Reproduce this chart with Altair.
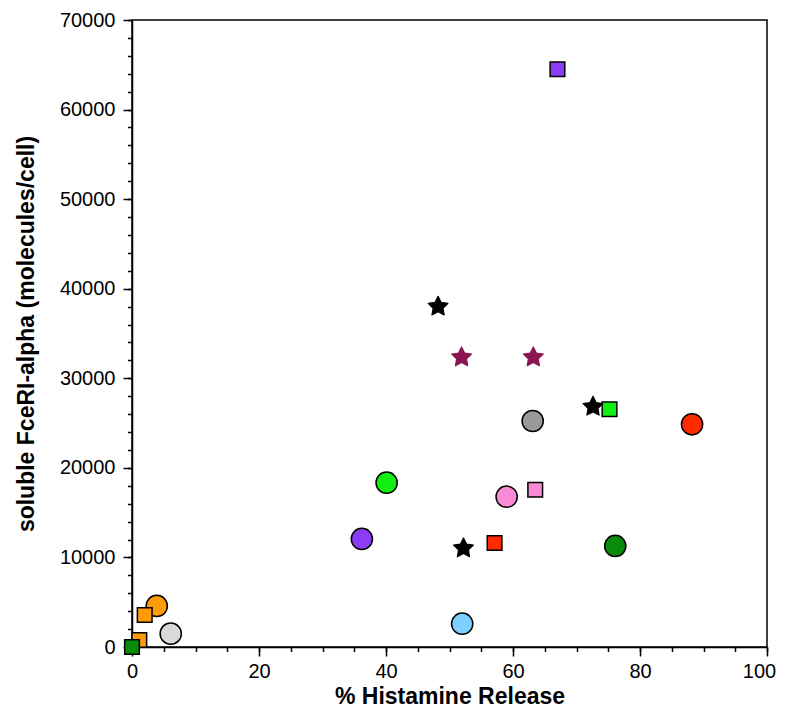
import altair as alt
import pandas as pd

# ---- data ----
x_vals = [36.2, 40.1, 59.0, 63.1, 88.2, 76.1, 52.0, 3.9, 6.1,
          48.2, 51.9, 63.2, 72.6, 52.2,
          67.0, 75.2, 63.5, 57.1, 2.0, 1.15, 0.0]
y_vals = [12060, 18340, 16780, 25230, 24860, 11280, 2600, 4580, 1490,
          38000, 32340, 32340, 26830, 11020,
          64500, 26540, 17560, 11610, 3570, 780, 0]
markers = ["circle"] * 9 + ["star"] * 5 + ["square"] * 7
series = ["purple", "lime", "pink", "gray", "red", "darkgreen", "lightblue", "orange", "lightgray",
          "black", "maroon", "maroon", "black", "black",
          "purple", "lime", "pink", "red", "orange", "orange", "darkgreen"]

x_ticks = [0, 20, 40, 60, 80, 100]
y_ticks = [0, 10000, 20000, 30000, 40000, 50000, 60000, 70000]
x_minor = list(range(0, 101, 5))
y_minor = list(range(0, 70001, 2000))

palette = {
    "purple": "#8B3CF6", "lime": "#11EE11", "pink": "#FA8AD6", "gray": "#999999",
    "red": "#FF2A00", "darkgreen": "#0A8A0A", "lightblue": "#7DCFFF",
    "orange": "#FF9A0A", "lightgray": "#D9D9D9", "black": "#000000", "maroon": "#8B1553",
}

df = pd.DataFrame({"x": x_vals, "y": y_vals, "marker": markers, "series": series})

STAR = ("M0,-1L0.294,-0.405L0.951,-0.309L0.476,0.155L0.588,0.809L0,0.5"
        "L-0.588,0.809L-0.476,0.155L-0.951,-0.309L-0.294,-0.405Z")

FONT = "Liberation Sans"
xscale = alt.Scale(domain=[0, 100], nice=False, zero=False)
yscale = alt.Scale(domain=[0, 70000], nice=False, zero=False)
fill_scale = alt.Scale(domain=list(palette.keys()), range=list(palette.values()))

main_x_axis = alt.Axis(values=x_ticks, title="% Histamine Release", grid=False,
                       tickSize=9, tickWidth=1.5, tickColor="black",
                       domainColor="black", domainWidth=1.5, labelFlush=False,
                       labelOffset={"condition": {"test": "datum.value == 100", "value": -8},
                                    "value": 0},
                       labelFont=FONT, labelFontSize=20, labelColor="black", labelPadding=5,
                       titleFont=FONT, titleFontSize=23, titleFontWeight="bold",
                       titleColor="black", titlePadding=4, orient="bottom")
main_y_axis = alt.Axis(values=y_ticks, title="soluble FceRI-alpha (molecules/cell)", grid=False,
                       format="d", tickSize=9, tickWidth=1.5, tickColor="black",
                       domainColor="black", domainWidth=1.5, labelFlush=False,
                       labelFont=FONT, labelFontSize=20, labelColor="black", labelPadding=8,
                       titleFont=FONT, titleFontSize=23, titleFontWeight="bold",
                       titleColor="black", titlePadding=21, orient="left")
minor_x_axis = alt.Axis(values=x_minor, labels=False, domain=False, grid=False, title=None,
                        tickSize=4.5, tickWidth=1.5, tickColor="black", orient="bottom")
minor_y_axis = alt.Axis(values=y_minor, labels=False, domain=False, grid=False, title=None,
                        tickSize=4.5, tickWidth=1.5, tickColor="black", orient="left")

base = alt.Chart(df)


def marker_layer(kind, shape, size, stroke_same, xaxis=None, yaxis=None):
    if stroke_same:
        mark = base.mark_point(filled=True, shape=shape, size=size, opacity=1,
                               strokeWidth=1.2, strokeJoin="round")
        enc = dict(stroke=alt.Stroke("series:N", scale=fill_scale, legend=None))
    else:
        mark = base.mark_point(filled=True, shape=shape, size=size, opacity=1,
                               stroke="black", strokeWidth=1.5)
        enc = {}
    return mark.transform_filter(alt.datum.marker == kind).encode(
        x=alt.X("x:Q", scale=xscale, axis=xaxis),
        y=alt.Y("y:Q", scale=yscale, axis=yaxis),
        fill=alt.Fill("series:N", scale=fill_scale, legend=None),
        **enc,
    )


circles = marker_layer("circle", "circle", 450, False, main_x_axis, main_y_axis)
stars = marker_layer("star", STAR, 430, True)
squares = marker_layer("square", "square", 215, False)
minor = base.mark_point(opacity=0).encode(
    x=alt.X("x:Q", scale=xscale, axis=minor_x_axis),
    y=alt.Y("y:Q", scale=yscale, axis=minor_y_axis),
)

chart = (
    alt.layer(minor, circles, stars, squares)
    .resolve_axis(x="independent", y="independent")
    .properties(
        width=635, height=627,
        autosize=alt.AutoSizeParams(type="none"),
        padding={"left": 124, "top": 12, "right": 11, "bottom": 66},
        background="white",
    )
    .configure_view(stroke="black", strokeWidth=1.5)
)

chart.save("out.html", embed_options={"renderer": "svg", "actions": False})
